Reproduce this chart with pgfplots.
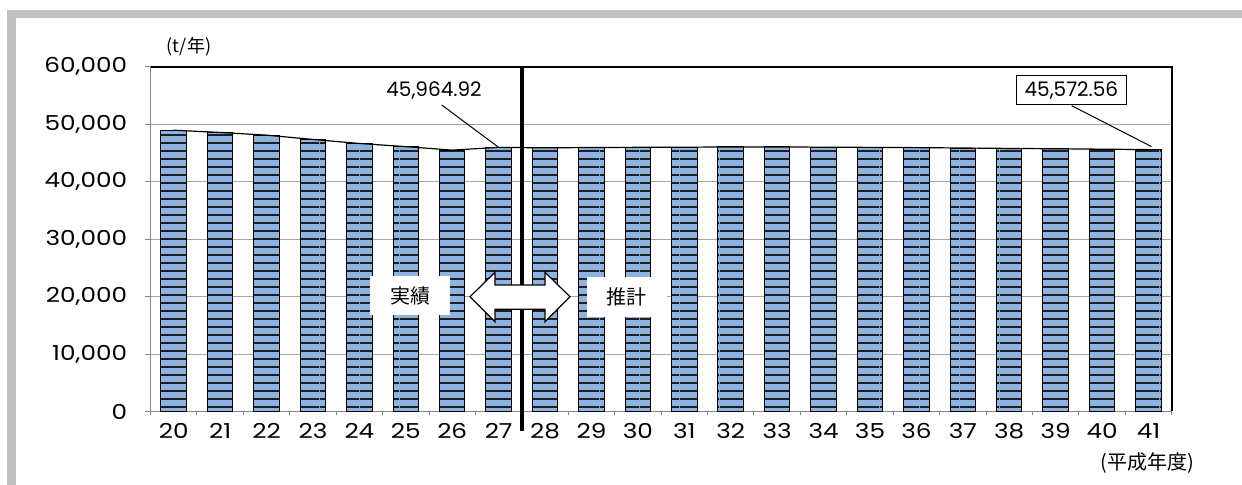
\documentclass[border=0pt]{standalone}
\usepackage{fontspec}
\setmainfont{Poppins}
\newfontfamily\tickfont{Poppins}[FakeStretch=1.2]
\newfontfamily\jp{Noto Sans CJK JP}
\usepackage{pgfplots}
\usepackage{pgfplotstable}
\pgfplotsset{compat=1.18}
\usetikzlibrary{patterns}

\definecolor{barblue}{HTML}{8DB3E2}
\definecolor{gridgray}{HTML}{A6A6A6}
\definecolor{axisgray}{HTML}{868686}
\definecolor{framegray}{HTML}{C0C0C0}

% horizontal stripe fill for the bars
\pgfdeclarepatternformonly{hstripes}{\pgfpoint{0pt}{0pt}}{\pgfpoint{20pt}{3.85pt}}{\pgfpoint{20pt}{3.85pt}}{%
  \pgfpathrectangle{\pgfpoint{0pt}{0pt}}{\pgfpoint{20pt}{1pt}}\pgfusepath{fill}}

% annual waste amount (t/year), fiscal years Heisei 20-41 (20-27 actual, 28-41 projected)
\pgfplotstableread{
x  year  t
0  20    48950
1  21    48560
2  22    48090
3  23    47340
4  24    46640
5  25    46090
6  26    45480
7  27    45964.92
8  28    45880
9  29    45940
10 30    45970
11 31    45990
12 32    46040
13 33    46030
14 34    46000
15 35    45960
16 36    45920
17 37    45850
18 38    45780
19 39    45720
20 40    45650
21 41    45572.56
}\waste

\begin{document}
\begin{tikzpicture}
\path[use as bounding box] (0,0) rectangle (621pt,-242.5pt);
\fill[white] (0,0) rectangle (621pt,-242.5pt);
% outer chart frame
\begin{scope}[x=0.5pt,y=-0.5pt]
  \fill[framegray] (7,10) rectangle (1242,18.3);
  \fill[framegray] (7,10) rectangle (15.7,485);
\end{scope}

\begin{axis}[
  at={(75.25pt,-205.75pt)}, anchor=south west,
  scale only axis, width=510.6pt, height=172.4pt,
  xmin=-0.5, xmax=21.5, ymin=0, ymax=60000,
  clip=false,
  axis line style={draw=axisgray, line width=0.75pt},
  xtick pos=bottom, ytick pos=left,
  tick align=outside,
  ytick={0,10000,...,60000},
  scaled y ticks=false,
  /pgf/number format/.cd, fixed, 1000 sep={,}, assume math mode=true,
  /pgfplots/.cd,
  yticklabel style={anchor=east, inner sep=0pt, xshift=-9pt, font=\tickfont\fontsize{10.3}{12}\selectfont},
  xtick={0,...,21},
  xticklabels={20,21,22,23,24,25,26,27,28,29,30,31,32,33,34,35,36,37,38,39,40,41},
  xticklabel style={anchor=center, inner sep=0pt, yshift=-7.25pt, font=\tickfont\fontsize{10.3}{12}\selectfont},
  major x tick style={draw=none},
  minor xtick={-0.5,0.5,...,21.5},
  major tick length=2.5pt, minor tick length=2pt,
  tick style={axisgray, line width=0.5pt},
  ymajorgrids, major grid style={gridgray, line width=0.5pt},
]
\addplot[ybar, bar width=12.75pt, fill=barblue, draw=black, line width=0.5pt,
  postaction={pattern=hstripes, pattern color=black!88}]
  table[x=x,y=t]{\waste};
\addplot[black, line width=0.6pt, mark=none] table[x=x,y=t]{\waste};

% plot-area border (top and right)
\draw[black, line width=1pt] (rel axis cs:0,1) -- (rel axis cs:1,1) -- (rel axis cs:1,0);
% divider between actual and projected years
\draw[black, line width=1.75pt] (axis cs:7.5,60000) -- ([yshift=-9.6pt]axis cs:7.5,0);

\coordinate (p27) at (axis cs:7,45964.92);
\coordinate (p41) at (axis cs:21,45572.56);
\end{axis}

\begin{scope}[x=0.5pt,y=-0.5pt]
  % unit and axis title
  \node[font=\jp\fontsize{9}{10}\selectfont] at (189,46.7) {(t/年)};
  \node[font=\jp\fontsize{10}{11}\selectfont] at (1147,463) {(平成年度)};

  % value callouts
  \node[font=\fontsize{10}{11}\selectfont] at (434,91) {45,964.92};
  \draw[black, line width=0.5pt] (441.7,105) -- (p27);
  \draw[black, line width=0.5pt, fill=white] (1016.7,76) rectangle (1126,105);
  \node[font=\fontsize{10}{11}\selectfont] at (1071.4,90.5) {45,572.56};
  \draw[black, line width=0.5pt] (1071.7,105.7) -- ([xshift=1.5pt,yshift=1.5pt]p41);

  % actual / projected labels with double arrow
  \fill[white] (370,276) rectangle (450,315);
  \node[font=\jp\fontsize{10}{11}\selectfont] at (410,296) {実績};
  \fill[white] (586.7,277.3) rectangle (666.7,317.3);
  \node[font=\jp\fontsize{10}{11}\selectfont] at (626,297) {推計};
  \draw[black, line width=0.6pt, fill=white, line join=miter]
    (470,296.7) -- (495,272.3) -- (495,285) -- (545,285) -- (545,272.3)
    -- (570,296.7) -- (545,321.7) -- (545,309.3) -- (495,309.3) -- (495,321.7) -- cycle;
\end{scope}
\end{tikzpicture}
\end{document}
